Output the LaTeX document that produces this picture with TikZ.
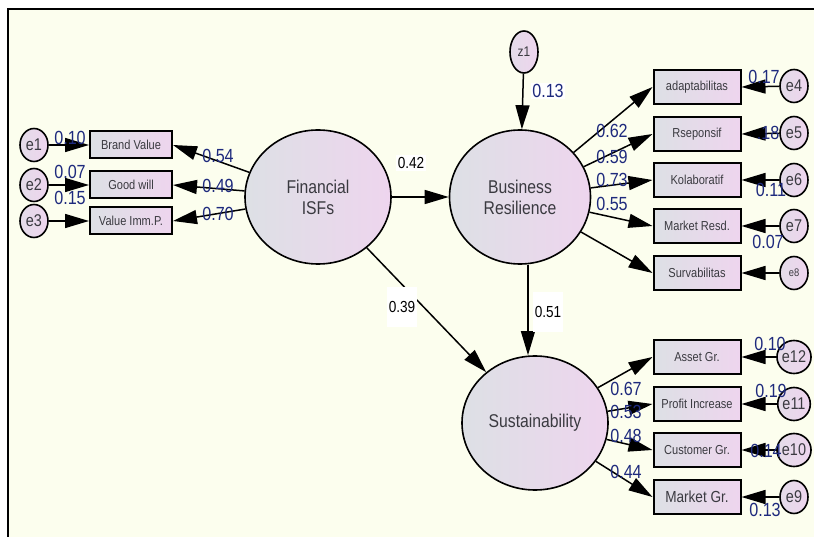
\documentclass[tikz,border=0pt]{standalone}
\usepackage{fontspec}
\setmainfont{Liberation Sans}
\newfontfamily\narrowsans[FakeStretch=0.85]{Liberation Sans}
\usepackage{xcolor}
\usepackage{tikz}
\usetikzlibrary{shapes, arrows.meta, positioning, calc}

\definecolor{paper}{RGB}{252,254,238}
\definecolor{greyside}{RGB}{221,224,229}
\definecolor{pinkside}{RGB}{238,213,238}
\definecolor{labelgrey}{RGB}{58,58,64}
\definecolor{loadblue}{RGB}{30,42,125}

\begin{document}
\begin{tikzpicture}[
        x=1pt, y=-1pt,
        latent/.style={
            ellipse,
            draw,
            line width=1.6pt,
            left color=greyside,
            right color=pinkside,
            text=labelgrey,
            align=center,
            font=\narrowsans\fontsize{18.5}{21}\selectfont,
            inner sep=0pt
        },
        indicator/.style={
            rectangle,
            draw,
            line width=2pt,
            left color=greyside,
            right color=pinkside,
            text=labelgrey,
            font=\narrowsans\fontsize{13}{15}\selectfont,
            inner sep=0pt,
            minimum width=82pt,
            minimum height=27pt
        },
        wideind/.style={indicator, minimum width=87pt, minimum height=34pt},
        errterm/.style={
            ellipse,
            draw,
            line width=1.6pt,
            left color=greyside!60!pinkside,
            right color=pinkside,
            text=labelgrey,
            font=\narrowsans\fontsize{17}{19}\selectfont,
            inner sep=0pt,
            minimum width=28pt,
            minimum height=33pt
        },
        path/.style={line width=1.5pt, -{Triangle[length=24pt, width=14pt]}},
        coef/.style={fill=white, font=\narrowsans\fontsize{16}{18}\selectfont, inner sep=2pt},
        load/.style={text=loadblue, font=\narrowsans\fontsize{19}{21}\selectfont, inner sep=0pt}
    ]

    \useasboundingbox (0,0) rectangle (814,537);
    \fill[white] (0,0) rectangle (814,537);
    \fill[paper] (8,9) rectangle (814,537);
    \draw[line width=2.6pt] (8,537) -- (8,9) -- (814,9);

    % latent variables
    \node[latent, minimum width=146pt, minimum height=134pt] (fin) at (318,197) {Financial\\ISFs};
    \node[latent, minimum width=141pt, minimum height=134pt] (res) at (520,197) {Business\\Resilience};
    \node[latent, minimum width=146pt, minimum height=134pt] (sus) at (535,423) {Sustainability};
    \node[errterm, minimum width=28pt, minimum height=42pt, font=\narrowsans\fontsize{14}{16}\selectfont] (z1) at (524,52) {z1};

    % indicators of Financial ISFs
    \node[indicator] (brand) at (131,145) {Brand Value};
    \node[indicator] (goodwill) at (131,185) {Good will};
    \node[indicator] (valimm) at (131,221) {Value Imm.P.};
    \node[errterm] (e1) at (34,145) {e1};
    \node[errterm] (e2) at (34,185) {e2};
    \node[errterm] (e3) at (34,221) {e3};

    % indicators of Business Resilience
    \node[wideind] (adapt) at (697,87) {adaptabilitas};
    \node[wideind] (respon) at (697,134) {Rseponsif};
    \node[wideind] (kolab) at (697,180) {Kolaboratif};
    \node[wideind] (mresd) at (697,226) {Market Resd.};
    \node[wideind] (surv) at (697,273) {Survabilitas};
    \node[errterm] (e4) at (794,86) {e4};
    \node[errterm] (e5) at (794,133) {e5};
    \node[errterm] (e6) at (794,180) {e6};
    \node[errterm] (e7) at (794,226) {e7};
    \node[errterm, font=\narrowsans\fontsize{11}{13}\selectfont] (e8) at (794,273) {e8};

    % indicators of Sustainability
    \node[wideind] (asset) at (697,357) {Asset Gr.};
    \node[wideind] (profit) at (697,404) {Profit Increase};
    \node[wideind] (custgr) at (697,450) {Customer Gr.};
    \node[wideind, font=\narrowsans\fontsize{16}{18}\selectfont] (markgr) at (697,497) {Market Gr.};
    \node[errterm] (e12) at (794,357) {e12};
    \node[errterm] (e11) at (794,404) {e11};
    \node[errterm] (e10) at (794,450) {e10};
    \node[errterm] (e9) at (794,497) {e9};

    % structural paths
    \draw[path] (fin) -- (res);
    \draw[path] (fin) -- (sus);
    \draw[path] (res.south) ++(8,0) coordinate (resfoot) (resfoot) -- (resfoot |- sus.north);
    \draw[path] (z1) -- (res);

    % measurement paths
    \foreach \ind in {brand, goodwill, valimm}
        \draw[path] (fin) -- (\ind.east);
    \foreach \ind in {adapt, respon, kolab, mresd, surv}
        \draw[path] (res) -- (\ind.west);
    \foreach \ind in {asset, profit, custgr, markgr}
        \draw[path] (sus) -- (\ind.west);

    % error terms
    \foreach \err/\ind in {e1/brand, e2/goodwill, e3/valimm}
        \draw[path] (\err) -- (\ind.west);
    \foreach \err/\ind in {e4/adapt, e5/respon, e6/kolab, e7/mresd, e8/surv,
                           e12/asset, e11/profit, e10/custgr, e9/markgr}
        \draw[path] (\err) -- (\ind.east);

    % path coefficients
    \node[coef] (c42) at (411,163) {0.42};
    \node[coef, minimum height=40pt, anchor=north] (c39) at (402,287) {0.39};
    \node[coef, minimum height=40pt, anchor=north] (c51) at (548,292) {0.51};
    \node[load, fill=white, inner sep=1pt] (c13) at (548,91) {0.13};

    % loadings and squared multiple correlations
    \node[load] (l54) at (218,156) {0.54};
    \node[load] (l49) at (218,186) {0.49};
    \node[load] (l70) at (218,214) {0.70};
    \node[load] (v1) at (70,138) {0.10};
    \node[load] (v2) at (70,172) {0.07};
    \node[load] (v3) at (70,198) {0.15};

    \node[load] (l62) at (612,131) {0.62};
    \node[load] (l59) at (612,157) {0.59};
    \node[load] (l73) at (612,180) {0.73};
    \node[load] (l55) at (612,204) {0.55};
    \node[load] (v4) at (764,77) {0.17};
    \node[load] (v5) at (768,133) {.18};
    \node[load] (v6) at (771,190) {0.11};
    \node[load] (v7) at (768,242) {0.07};

    \node[load] (l67) at (626,389) {0.67};
    \node[load] (l53) at (626,412) {0.53};
    \node[load] (l48) at (626,436) {0.48};
    \node[load] (l44) at (626,472) {0.44};
    \node[load] (v12) at (770,344) {0.10};
    \node[load] (v11) at (771,391) {0.19};
    \node[load] (v10) at (766,451) {0.14};
    \node[load] (v9) at (765,510) {0.13};

\end{tikzpicture}
\end{document}
